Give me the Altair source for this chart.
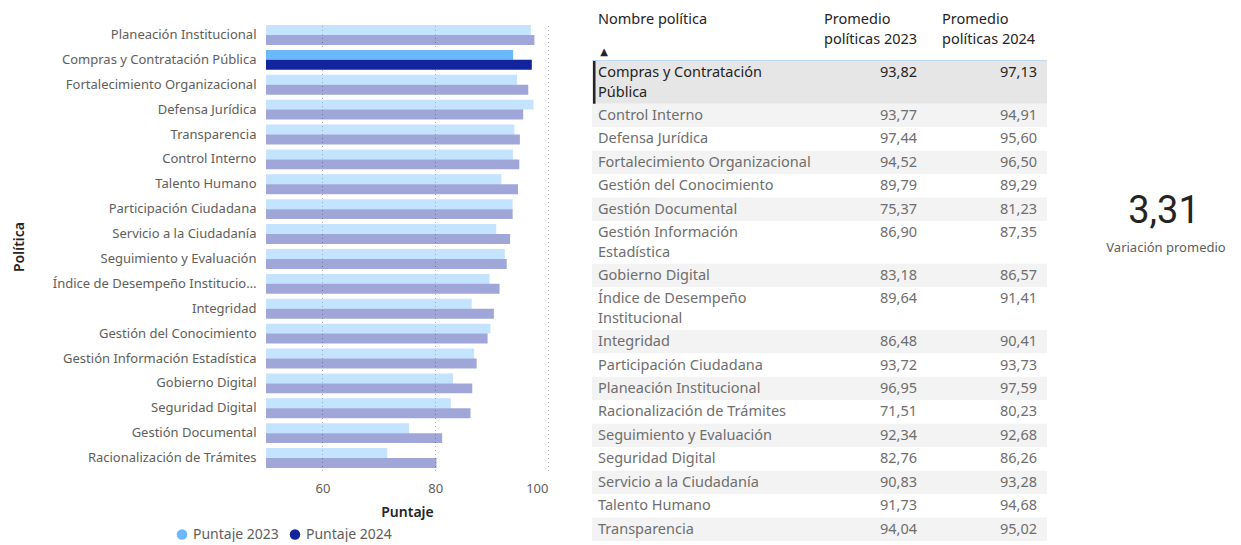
import altair as alt
import pandas as pd

# ---------------- data ----------------
politicas = [
    "Compras y Contratación Pública", "Control Interno", "Defensa Jurídica",
    "Fortalecimiento Organizacional", "Gestión del Conocimiento", "Gestión Documental",
    "Gestión Información Estadística", "Gobierno Digital", "Índice de Desempeño Institucional",
    "Integridad", "Participación Ciudadana", "Planeación Institucional",
    "Racionalización de Trámites", "Seguimiento y Evaluación", "Seguridad Digital",
    "Servicio a la Ciudadanía", "Talento Humano", "Transparencia",
]
p2023 = [93.82, 93.77, 97.44, 94.52, 89.79, 75.37, 86.90, 83.18, 89.64,
         86.48, 93.72, 96.95, 71.51, 92.34, 82.76, 90.83, 91.73, 94.04]
p2024 = [97.13, 94.91, 95.60, 96.50, 89.29, 81.23, 87.35, 86.57, 91.41,
         90.41, 93.73, 97.59, 80.23, 92.68, 86.26, 93.28, 94.68, 95.02]
series = ["Puntaje 2023", "Puntaje 2024"]
seleccion = "Compras y Contratación Pública"
x_ticks = [60, 80, 100]
encabezados = ["Nombre política", "Promedio\npolíticas 2023", "Promedio\npolíticas 2024"]
kpi_label = "Variación promedio"
tabla_nombres = {
    "Compras y Contratación Pública": "Compras y Contratación\nPública",
    "Gestión Información Estadística": "Gestión Información\nEstadística",
    "Índice de Desempeño Institucional": "Índice de Desempeño\nInstitucional",
}

# ---------------- styles ----------------
C23 = "#6CB8FF"
C24 = "#12239E"
DARK = "#252423"
GREY = "#605E5C"
FONT = "Noto Sans"
TFS = 14.5  # table font size

def fmt(v):
    return f"{v:.2f}".replace(".", ",")

# ---------------- bar chart ----------------
rows = []
for p, a, b in zip(politicas, p2023, p2024):
    s = "si" if p == seleccion else "no"
    rows.append({"politica": p, "serie": series[0], "valor": a, "sel": s})
    rows.append({"politica": p, "serie": series[1], "valor": b, "sel": s})
bars_df = pd.DataFrame(rows)
orden = [p for p, _ in sorted(zip(politicas, p2024), key=lambda t: -t[1])]

bars = alt.Chart(bars_df).mark_bar(clip=True).encode(
    y=alt.Y("politica:N", sort=orden,
            scale=alt.Scale(paddingInner=0.2, paddingOuter=0.1),
            axis=alt.Axis(title="Política", labelLimit=205, labelPadding=10, ticks=False,
                          domain=False, labelColor=GREY, labelFontSize=13, labelFont=FONT,
                          titleColor=DARK, titleFontSize=14, titleFontWeight=600, titleFont=FONT,
                          titlePadding=40)),
    yOffset=alt.YOffset("serie:N", sort=series),
    x=alt.X("valor:Q", scale=alt.Scale(domain=[50, 100], nice=False, zero=False),
            axis=alt.Axis(values=x_ticks, title="Puntaje", ticks=False, domain=False, grid=True,
                          gridDash=[1, 3], gridColor="#B3B0AD", labelColor=GREY, labelFontSize=13,
                          labelFont=FONT, labelPadding=12, titleColor=DARK, titleFontSize=14,
                          titleFontWeight=600, titleFont=FONT, titlePadding=10)),
    color=alt.Color("serie:N", scale=alt.Scale(domain=series, range=[C23, C24]),
                    legend=alt.Legend(title=None, orient="none", legendX=-91, legendY=505,
                                      direction="horizontal", symbolType="circle", symbolSize=110,
                                      labelFontSize=14, labelColor=GREY, labelFont=FONT,
                                      columnPadding=9, labelOffset=4)),
    opacity=alt.Opacity("sel:N", scale=alt.Scale(domain=["si", "no"], range=[1, 0.4]), legend=None),
).properties(width=282, height=448)

# ---------------- table ----------------
ROW_PX = 23.45
EXTRA = 0.823
TW = 455
trows = []
cur = 0.0
for i, (p, a, b) in enumerate(zip(politicas, p2023, p2024)):
    label = tabla_nombres.get(p, p)
    n = label.count("\n") + 1
    h = 1 + (n - 1) * EXTRA
    shade = "sel" if p == seleccion else ("gris" if i % 2 == 1 else "blanco")
    trows.append({"nombre": label, "v23": fmt(a), "v24": fmt(b), "top": cur, "bottom": cur + h,
                  "ytext": cur + 0.22, "shade": shade, "sel": "si" if p == seleccion else "no"})
    cur += h
tbl = pd.DataFrame(trows)
yscale = alt.Scale(domain=[0, cur], range=[38.5, 38.5 + cur * ROW_PX])

base = alt.Chart(tbl)
bg = base.mark_rect().encode(
    y=alt.Y("top:Q", scale=yscale, axis=None), y2="bottom:Q",
    x=alt.value(0), x2=alt.value(TW),
    fill=alt.Fill("shade:N", scale=alt.Scale(domain=["sel", "gris", "blanco"],
                                             range=["#E6E6E6", "#F3F3F3", "#FFFFFF"]), legend=None),
)
marker = base.transform_filter(alt.datum.sel == "si").mark_rect(color=DARK).encode(
    y=alt.Y("top:Q", scale=yscale, axis=None), y2="bottom:Q",
    x=alt.value(1), x2=alt.value(3.5),
)
txt_color = alt.condition(alt.datum.sel == "si", alt.value(DARK), alt.value("#6E6E6E"))
names = base.mark_text(align="left", baseline="top", fontSize=TFS, font=FONT, lineBreak="\n",
                       lineHeight=19.5).encode(
    y=alt.Y("ytext:Q", scale=yscale, axis=None), x=alt.value(6), text="nombre:N", color=txt_color)
v23 = base.mark_text(align="right", baseline="top", fontSize=TFS, font=FONT).encode(
    y=alt.Y("ytext:Q", scale=yscale, axis=None), x=alt.value(325), text="v23:N", color=txt_color)
v24 = base.mark_text(align="right", baseline="top", fontSize=TFS, font=FONT).encode(
    y=alt.Y("ytext:Q", scale=yscale, axis=None), x=alt.value(445), text="v24:N", color=txt_color)

hdr_df = pd.DataFrame({"h1": [encabezados[0]], "h2": [encabezados[1]], "h3": [encabezados[2]],
                       "arrow": ["▲"]})
hbase = alt.Chart(hdr_df)
hdr_style = dict(align="left", baseline="top", fontSize=TFS, font=FONT, color=DARK,
                 lineBreak="\n", lineHeight=20)
h1 = hbase.mark_text(**hdr_style).encode(x=alt.value(6), y=alt.value(-9.5), text="h1:N")
h2 = hbase.mark_text(**hdr_style).encode(x=alt.value(232), y=alt.value(-9.5), text="h2:N")
h3 = hbase.mark_text(**hdr_style).encode(x=alt.value(350), y=alt.value(-9.5), text="h3:N")
arrow = hbase.mark_text(align="center", baseline="middle", fontSize=10, font="DejaVu Sans",
                        color=DARK).encode(x=alt.value(12), y=alt.value(29), text="arrow:N")
hline = hbase.mark_rule(color="#BFD9F2", strokeWidth=1).encode(
    x=alt.value(0), x2=alt.value(TW), y=alt.value(38))

table = alt.layer(bg, marker, names, v23, v24, hline, h1, h2, h3, arrow).properties(
    width=TW, height=448)

# ---------------- KPI ----------------
sel_idx = politicas.index(seleccion)
kpi_df = pd.DataFrame({"valor": [fmt(p2024[sel_idx] - p2023[sel_idx])], "label": [kpi_label]})
kbase = alt.Chart(kpi_df)
kpi_val = kbase.mark_text(align="center", baseline="middle", fontSize=38, font="Roboto",
                          color=DARK).encode(x=alt.value(73), y=alt.value(189.5), text="valor:N")
kpi_lab = kbase.mark_text(align="center", baseline="middle", fontSize=13, font=FONT,
                          color=GREY).encode(x=alt.value(75), y=alt.value(225.5), text="label:N")
kpi = alt.layer(kpi_val, kpi_lab).properties(width=142, height=448)

chart = alt.hconcat(bars, table, kpi, spacing=44, bounds="flush").properties(
    padding={"left": 12, "top": 11.5, "right": 0, "bottom": 0}
).configure(font=FONT).configure_view(strokeWidth=0, stroke="transparent")

chart.save("out.html", embed_options={"renderer": "svg", "actions": False})
